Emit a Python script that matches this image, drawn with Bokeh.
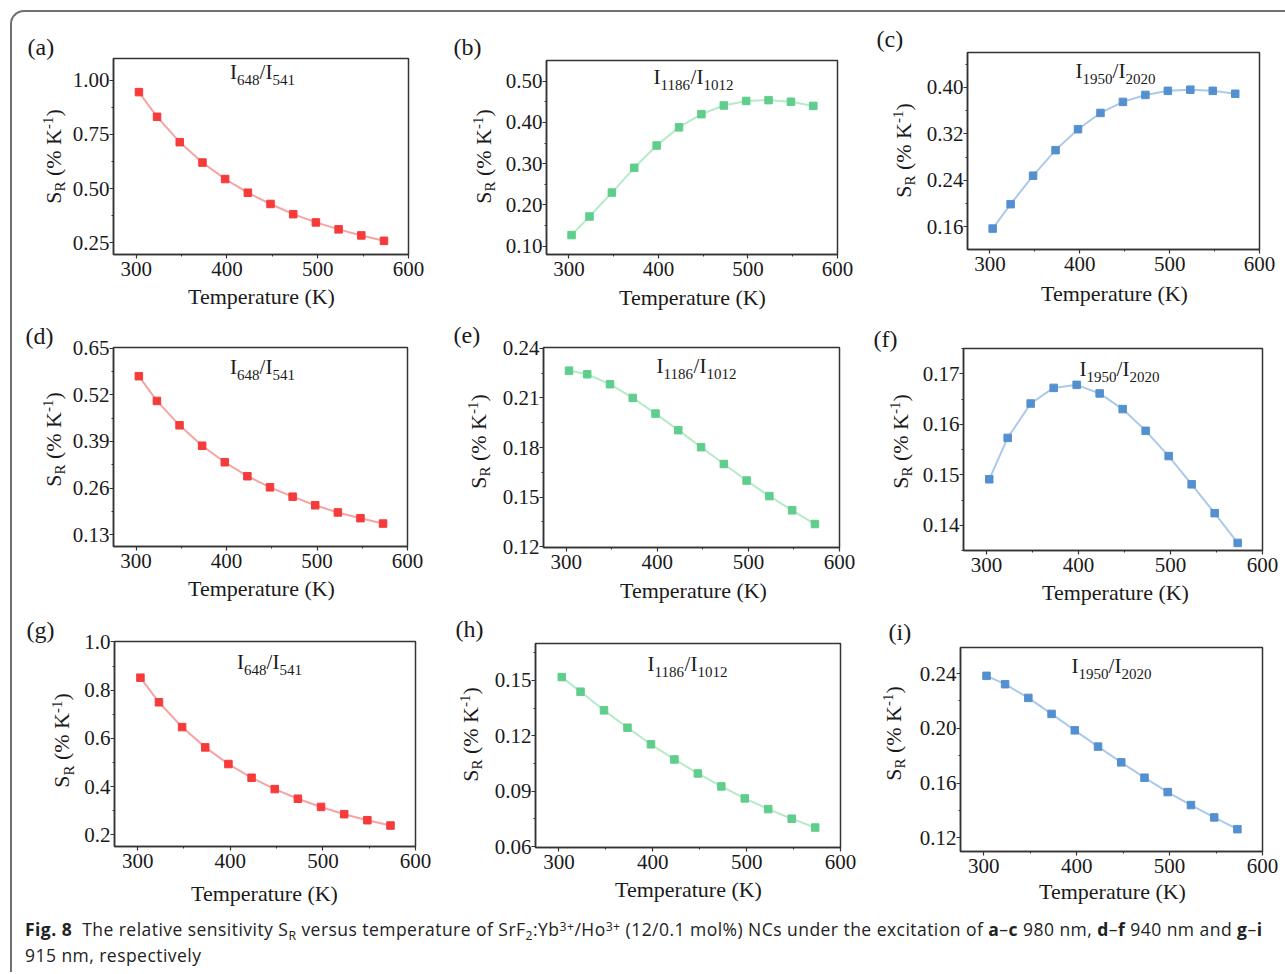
import math
from bokeh.plotting import figure
from bokeh.models import Label, FixedTicker, PrintfTickFormatter, Div, Range1d
from bokeh.layouts import column, row
from bokeh.embed import file_html
from bokeh.resources import INLINE

# ---------------- data ----------------
temperature = [303, 323, 348, 373, 398, 423, 448, 473, 498, 523, 548, 573]

sr_a = [0.945, 0.831, 0.714, 0.620, 0.544, 0.481, 0.429, 0.382, 0.344, 0.312, 0.284, 0.259]
sr_b = [0.127, 0.172, 0.230, 0.290, 0.344, 0.388, 0.420, 0.441, 0.452, 0.454, 0.450, 0.440]
sr_c = [0.157, 0.199, 0.248, 0.292, 0.328, 0.356, 0.375, 0.387, 0.394, 0.396, 0.394, 0.389]
sr_d = [0.572, 0.503, 0.435, 0.378, 0.332, 0.293, 0.262, 0.236, 0.212, 0.192, 0.176, 0.161]
sr_e = [0.2265, 0.2243, 0.2183, 0.2100, 0.2005, 0.1905, 0.1802, 0.1700, 0.1600, 0.1506, 0.1420, 0.1337]
sr_f = [0.1491, 0.1573, 0.1641, 0.1672, 0.1678, 0.1661, 0.1630, 0.1587, 0.1537, 0.1481, 0.1424, 0.1365]
sr_g = [0.852, 0.750, 0.647, 0.563, 0.494, 0.437, 0.390, 0.350, 0.316, 0.286, 0.261, 0.239]
sr_h = [0.1518, 0.1439, 0.1338, 0.1244, 0.1154, 0.1072, 0.0996, 0.0926, 0.0861, 0.0803, 0.0751, 0.0703]
sr_i = [0.2383, 0.2322, 0.2222, 0.2105, 0.1985, 0.1866, 0.1751, 0.1639, 0.1534, 0.1439, 0.1349, 0.1263]

x_ticks = [300, 400, 500, 600]
x_minor = [350, 450, 550]

yt_a = [0.25, 0.50, 0.75, 1.00]; ym_a = [0.375, 0.625, 0.875]
yt_b = [0.10, 0.20, 0.30, 0.40, 0.50]; ym_b = [0.15, 0.25, 0.35, 0.45]
yt_c = [0.16, 0.24, 0.32, 0.40]; ym_c = [0.12, 0.20, 0.28, 0.36, 0.44]
yt_d = [0.13, 0.26, 0.39, 0.52, 0.65]; ym_d = [0.195, 0.325, 0.455, 0.585]
yt_e = [0.12, 0.15, 0.18, 0.21, 0.24]; ym_e = [0.135, 0.165, 0.195, 0.225]
yt_f = [0.14, 0.15, 0.16, 0.17]; ym_f = [0.135, 0.145, 0.155, 0.165, 0.175]
yt_g = [0.2, 0.4, 0.6, 0.8, 1.0]; ym_g = [0.3, 0.5, 0.7, 0.9]
yt_h = [0.06, 0.09, 0.12, 0.15]; ym_h = [0.075, 0.105, 0.135, 0.165]
yt_i = [0.12, 0.16, 0.20, 0.24]; ym_i = [0.14, 0.18, 0.22, 0.26]

panel_tags = ["(a)", "(b)", "(c)", "(d)", "(e)", "(f)", "(g)", "(h)", "(i)"]
ratio_648 = [("I", 0), ("648", 1), ("/I", 0), ("541", 1)]
ratio_1186 = [("I", 0), ("1186", 1), ("/I", 0), ("1012", 1)]
ratio_1950 = [("I", 0), ("1950", 1), ("/I", 0), ("2020", 1)]
y_title = [("S", 0), ("R", 1), (" (% K", 0), ("-1", 2), (")", 0)]
x_title = "Temperature (K)"

# ---------------- styles / geometry ----------------
RED = ("#f63b3b", "#f7a3a3")
GREEN = ("#5fce8c", "#b5ebc6")
BLUE = ("#5490d0", "#abc9ea")
SERIF = "Liberation Serif"
INK = "#1a1a1a"
BASE_FIX = 0.4   # em: Bokeh draws 'alphabetic' text slightly lower than the anchor

TW = {'I': 0.333, '/': 0.278, 'S': 0.556, 'R': 0.667, ' ': 0.25, '(': 0.333,
      ')': 0.333, '%': 0.833, 'K': 0.722, '-': 0.333}
for d in "0123456789":
    TW[d] = 0.5


def tw(s, fs):
    return sum(TW.get(c, 0.5) for c in s) * fs


OX, OY = 12, 12                  # page position of the plotting area
col_x = [12, 440, 862]
col_w = [428, 422, 420]
row_y = [12, 318, 612]
row_h = [306, 294, 298]
TOTAL_W = sum(col_w)
TOTAL_H = sum(row_h)

# frame (L,R,T,B), tag (x, baseline), ratio (center x, baseline), ytitle (baseline x, center y), xtitle (center x, baseline)
geom = [
    ((113, 408, 58, 254), (27, 56.5), (262, 80), (61.7, 156), (261, 305)),
    ((546, 837, 60, 254), (453, 56.5), (693, 85), (491.7, 156), (692, 306)),
    ((967, 1259, 52, 249), (876, 48.5), (1115, 79), (911.7, 150), (1114, 302)),
    ((113, 407, 347, 546), (25, 345.5), (262, 375), (61.7, 439), (261, 597)),
    ((543, 839, 347, 547), (453, 344.5), (696, 374), (486.7, 441), (693, 599)),
    ((963, 1262, 348, 550), (873, 348.5), (1119, 377), (908.3, 441), (1115, 601)),
    ((114, 415, 641, 846), (26, 639.5), (269, 670), (70, 740), (264, 902)),
    ((535, 840, 643, 847), (455, 638.5), (687, 672), (478.3, 734), (688, 898)),
    ((960, 1262, 647, 851), (888, 641.5), (1111, 674), (901.7, 733), (1112, 900)),
]

panels = [
    (sr_a, RED, (0.196, 1.10), yt_a, ym_a, "%.2f", ratio_648),
    (sr_b, GREEN, (0.08, 0.55), yt_b, ym_b, "%.2f", ratio_1186),
    (sr_c, BLUE, (0.121, 0.46), yt_c, ym_c, "%.2f", ratio_1950),
    (sr_d, RED, (0.097, 0.652), yt_d, ym_d, "%.2f", ratio_648),
    (sr_e, GREEN, (0.1195, 0.2405), yt_e, ym_e, "%.2f", ratio_1186),
    (sr_f, BLUE, (0.135, 0.175), yt_f, ym_f, "%.2f", ratio_1950),
    (sr_g, RED, (0.152, 1.002), yt_g, ym_g, "%.1f", ratio_648),
    (sr_h, GREEN, (0.0595, 0.170), yt_h, ym_h, "%.2f", ratio_1186),
    (sr_i, BLUE, (0.110, 0.259), yt_i, ym_i, "%.2f", ratio_1950),
]

XR = (275, 600)


def label(fig, x, y, text, fs, angle=0.0, align="left"):
    fig.add_layout(Label(x=x, y=y, text=text, text_font=SERIF, text_font_size=f"{fs}px",
                         text_color=INK, text_align=align, text_baseline="alphabetic",
                         angle=angle))


def make_panel(k):
    vals, colors, yr, yt, ym, fmt, ratio = panels[k]
    frame, _, rpos, _, _ = geom[k]
    ci, ri = k % 3, k // 3
    cx, cy, cw, ch = col_x[ci], row_y[ri], col_w[ci], row_h[ri]
    L, R, T, B = frame
    p = figure(width=cw, height=ch, x_range=Range1d(*XR), y_range=Range1d(*yr),
               output_backend="svg", toolbar_location=None, frame_align=False,
               min_border_left=L - cx, min_border_right=cx + cw - R,
               min_border_top=T - cy, min_border_bottom=cy + ch - B)
    p.grid.visible = False
    p.outline_line_color = "#333333"
    p.outline_line_width = 1.5
    p.outline_line_alpha = 1.0
    p.background_fill_color = None
    p.border_fill_color = None

    for ax in (p.xaxis, p.yaxis):
        ax.axis_line_color = "#333333"
        ax.axis_line_width = 1.5
        ax.major_tick_line_color = "#333333"
        ax.minor_tick_line_color = "#333333"
        ax.major_tick_line_width = 1.2
        ax.minor_tick_line_width = 1.0
        ax.major_tick_in = 0
        ax.major_tick_out = 4
        ax.minor_tick_in = 0
        ax.minor_tick_out = 2
        ax.major_label_text_font = SERIF
        ax.major_label_text_font_size = "21px"
        ax.major_label_text_color = INK
    p.xaxis.major_label_standoff = 3
    p.yaxis.major_label_standoff = 0
    p.xaxis.ticker = FixedTicker(ticks=x_ticks, minor_ticks=x_minor)
    p.xaxis.formatter = PrintfTickFormatter(format="%d")
    p.yaxis.ticker = FixedTicker(ticks=yt, minor_ticks=ym)
    p.yaxis.formatter = PrintfTickFormatter(format=fmt)

    p.line(temperature, vals, line_color=colors[1], line_width=2)
    p.scatter(temperature, vals, marker="square", size=7.5, fill_color=colors[0], line_color=colors[0])

    def dx(px):
        return XR[0] + (px - L) / (R - L) * (XR[1] - XR[0])

    def dy(py):
        return yr[0] + (B - py) / (B - T) * (yr[1] - yr[0])

    # ratio annotation with subscripts (inside the frame)
    FS, SS = 21, 15
    total = sum(tw(s, SS if kind else FS) for s, kind in ratio)
    xcur = rpos[0] - total / 2
    for s, kind in ratio:
        fs = SS if kind else FS
        base = rpos[1] + (5 if kind == 1 else 0) - BASE_FIX * fs
        label(p, dx(xcur), dy(base), s, fs)
        xcur += tw(s, fs)
    return p


# background figure carrying texts that lie outside the plot frames (page pixel coordinates)
bg = figure(width=TOTAL_W, height=TOTAL_H, x_range=Range1d(0, TOTAL_W), y_range=Range1d(TOTAL_H, 0),
            x_axis_type=None, y_axis_type=None, output_backend="svg", toolbar_location=None,
            min_border=0, frame_align=False)
bg.grid.visible = False
bg.outline_line_color = None
bg.background_fill_color = None
bg.border_fill_color = None

for k in range(9):
    frame, tagpos, _, ypos, xpos = geom[k]
    # panel tag
    label(bg, tagpos[0] - OX, tagpos[1] - OY - BASE_FIX * 24, panel_tags[k], 24)
    # x title
    label(bg, xpos[0] - OX, xpos[1] - OY - BASE_FIX * 22, x_title, 22, align="center")
    # rotated y title with sub/superscript (reads bottom to top)
    FS2, SS2 = 22, 15
    total = sum(tw(s, SS2 if kind else FS2) for s, kind in y_title)
    ycur = ypos[1] + total / 2
    for s, kind in y_title:
        fs = SS2 if kind else FS2
        stripped = s.lstrip(" ")
        ycur -= tw(s[:len(s) - len(stripped)], fs)      # leading blank as an advance
        bx = ypos[0] + (4 if kind == 1 else (-8 if kind == 2 else 0)) - BASE_FIX * fs
        label(bg, bx - OX, ycur - OY, stripped, fs, angle=math.pi / 2)
        ycur -= tw(stripped, fs)

figs = [make_panel(k) for k in range(9)]
grid = column(*[row(*figs[3 * r:3 * r + 3]) for r in range(3)], margin=(-TOTAL_H, 0, 0, 0))

sub = '<span style="font-size:70%;position:relative;top:0.3em;line-height:0;">{}</span>'
sup = '<span style="font-size:70%;position:relative;top:-0.45em;line-height:0;">{}</span>'
caption_html = (
    '<b>Fig. 8</b>&nbsp;&nbsp;The relative sensitivity S' + sub.format('R') +
    ' versus temperature of SrF' + sub.format('2') + ':Yb' + sup.format('3+') +
    '/Ho' + sup.format('3+') + ' (12/0.1 mol%) NCs under the excitation of '
    '<b>a</b>–<b>c</b> 980 nm, <b>d</b>–<b>f</b> 940 nm and <b>g</b>–<b>i</b><br>915 nm, respectively'
)
caption = Div(text=caption_html, width=1271, height=52,
              styles={"font-family": "'Open Sans', Lato, sans-serif", "font-size": "17.5px",
                      "letter-spacing": "0.46px",
                      "line-height": "26px", "padding-left": "8px", "padding-top": "1px",
                      "white-space": "nowrap", "color": "#222222"})

layout = column(bg, grid, caption,
                styles={"border-left": "2px solid #707070", "border-top": "2px solid #707070",
                        "border-top-left-radius": "14px", "margin-left": "10px", "margin-top": "10px"})

open("out.html", "w").write(file_html(layout, INLINE))
